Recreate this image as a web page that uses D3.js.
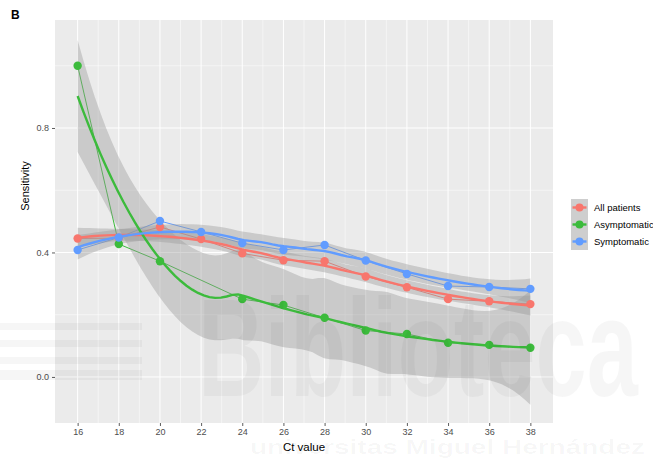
<!DOCTYPE html>
<html>
<head>
<meta charset="utf-8">
<script src="https://cdn.jsdelivr.net/npm/d3@7"></script>
<style>
  body { margin: 0; background: #fff; }
  svg { font-family: "Liberation Sans", Arial, sans-serif; }
</style>
</head>
<body>
<div id="chart"></div>
<script>
// Ct thresholds on the x axis
const ctValues = [16, 18, 20, 22, 24, 26, 28, 30, 32, 34, 36, 38];

// sensitivity per group (null = no point drawn)
const allPatients  = [0.445, 0.446, 0.482, 0.443, 0.397, 0.375, 0.372, 0.323, 0.288, 0.250, 0.243, 0.234];
const asymptomatic = [1.000, 0.427, 0.372, null, 0.250, 0.231, 0.190, 0.149, 0.138, 0.110, 0.103, 0.094];
const symptomatic  = [0.408, 0.448, 0.501, 0.466, 0.430, 0.408, 0.424, 0.374, 0.331, 0.292, 0.289, 0.283];

const groupNames = ["All patients", "Asymptomatic", "Symptomatic"];
const groupColors = ["#F8766D", "#3CBB3C", "#619CFF"];

const yTicks = [0.0, 0.4, 0.8];
const yMinor = [0.2, 0.6, 1.0];

const width = 653, height = 460;

const svg = d3.select("#chart").append("svg")
  .attr("width", width)
  .attr("height", height);

const x = d3.scaleLinear().domain([14.9, 39.1]).range([55, 553]);
const y = d3.scaleLinear().domain([-0.148, 1.147]).range([423, 20]);

// panel
svg.append("rect")
  .attr("x", 55).attr("y", 20)
  .attr("width", 498).attr("height", 403)
  .attr("fill", "#EBEBEB");

// grid lines (minor then major)
const xMinor = ctValues.slice(0, -1).map(v => v + 1);
svg.selectAll("line.xminor").data(xMinor).enter().append("line")
  .attr("x1", d => x(d)).attr("x2", d => x(d))
  .attr("y1", 20).attr("y2", 423)
  .attr("stroke", "#fff").attr("stroke-width", 0.5);
svg.selectAll("line.yminor").data(yMinor).enter().append("line")
  .attr("x1", 55).attr("x2", 553)
  .attr("y1", d => y(d)).attr("y2", d => y(d))
  .attr("stroke", "#fff").attr("stroke-width", 0.5);
svg.selectAll("line.xmajor").data(ctValues).enter().append("line")
  .attr("x1", d => x(d)).attr("x2", d => x(d))
  .attr("y1", 20).attr("y2", 423)
  .attr("stroke", "#fff").attr("stroke-width", 1);
svg.selectAll("line.ymajor").data(yTicks).enter().append("line")
  .attr("x1", 55).attr("x2", 553)
  .attr("y1", d => y(d)).attr("y2", d => y(d))
  .attr("stroke", "#fff").attr("stroke-width", 1);

// loess fit (degree 2, span 0.75) with 95% band, like geom_smooth
function loessRow(xs, x0, span) {
  const n = xs.length;
  const q = Math.floor(n * span);
  const dists = xs.map(v => Math.abs(v - x0));
  const h = dists.slice().sort((a, b) => a - b)[q - 1] * 1.0000001;
  const w = dists.map(d => d < h ? Math.pow(1 - Math.pow(d / h, 3), 3) : 0);
  const A = [[0, 0, 0], [0, 0, 0], [0, 0, 0]];
  xs.forEach((v, i) => {
    const u = v - x0, row = [1, u, u * u];
    for (let a = 0; a < 3; a++) for (let b = 0; b < 3; b++) A[a][b] += w[i] * row[a] * row[b];
  });
  const inv = invert3(A);
  return xs.map((v, i) => {
    const u = v - x0;
    return w[i] * (inv[0][0] + inv[0][1] * u + inv[0][2] * u * u);
  });
}

function invert3(m) {
  const [a, b, c] = m[0], [d, e, f] = m[1], [g, h, i] = m[2];
  const A = e * i - f * h, B = -(d * i - f * g), C = d * h - e * g;
  const det = a * A + b * B + c * C;
  return [
    [A / det, -(b * i - c * h) / det, (b * f - c * e) / det],
    [B / det, (a * i - c * g) / det, -(a * f - c * d) / det],
    [C / det, -(a * h - b * g) / det, (a * e - b * d) / det]
  ];
}

function tQuantile975(df) {
  const z = 1.959964;
  const g1 = (Math.pow(z, 3) + z) / 4;
  const g2 = (5 * Math.pow(z, 5) + 16 * Math.pow(z, 3) + 3 * z) / 96;
  const g3 = (3 * Math.pow(z, 7) + 19 * Math.pow(z, 5) + 17 * Math.pow(z, 3) - 15 * z) / 384;
  return z + g1 / df + g2 / (df * df) + g3 / (df * df * df);
}

function smooth(xs, ys, span = 0.75) {
  const n = xs.length;
  const L = xs.map(v => loessRow(xs, v, span));
  const M = L.map((row, i) => row.map((l, j) => (i === j ? 1 : 0) - l));
  const res = M.map(row => d3.sum(row, (m, j) => m * ys[j]));
  const rss = d3.sum(res, r => r * r);
  const R = d3.range(n).map(i => d3.range(n).map(j => d3.sum(d3.range(n), k => M[k][i] * M[k][j])));
  const delta1 = d3.sum(d3.range(n), i => R[i][i]);
  let delta2 = 0;
  for (let i = 0; i < n; i++) for (let j = 0; j < n; j++) delta2 += R[i][j] * R[j][i];
  const sigma = Math.sqrt(rss / delta1);
  const t = tQuantile975(delta1 * delta1 / delta2);
  const grid = d3.range(80).map(k => xs[0] + (xs[n - 1] - xs[0]) * k / 79);
  return grid.map(g => {
    const l = loessRow(xs, g, span);
    const fit = d3.sum(l, (v, j) => v * ys[j]);
    const se = sigma * Math.sqrt(d3.sum(l, v => v * v));
    return { x: g, fit, lo: fit - t * se, hi: fit + t * se };
  });
}

const series = [allPatients, asymptomatic, symptomatic].map((vals, k) => {
  const points = ctValues.map((c, i) => ({ x: c, y: vals[i] })).filter(p => p.y !== null);
  return {
    name: groupNames[k],
    color: groupColors[k],
    points,
    fit: smooth(points.map(p => p.x), points.map(p => p.y))
  };
});

svg.append("clipPath").attr("id", "panel")
  .append("rect").attr("x", 55).attr("y", 20).attr("width", 498).attr("height", 403);

const plot = svg.append("g").attr("clip-path", "url(#panel)");

const area = d3.area().x(d => x(d.x)).y0(d => y(d.lo)).y1(d => y(d.hi));
const fitLine = d3.line().x(d => x(d.x)).y(d => y(d.fit));
const rawLine = d3.line().x(d => x(d.x)).y(d => y(d.y));

// thin lines connecting the observed points (drawn under the bands)
plot.selectAll("path.raw").data(series).enter().append("path")
  .attr("d", d => rawLine(d.points))
  .attr("fill", "none")
  .attr("stroke", d => d.color)
  .attr("stroke-width", 1);

// confidence bands
plot.selectAll("path.band").data(series).enter().append("path")
  .attr("d", d => area(d.fit))
  .attr("fill", "#999999")
  .attr("fill-opacity", 0.4);

// smooth curves
plot.selectAll("path.fit").data(series).enter().append("path")
  .attr("d", d => fitLine(d.fit))
  .attr("fill", "none")
  .attr("stroke", d => d.color)
  .attr("stroke-width", 2.4);

// points
series.forEach(s => {
  plot.selectAll(null).data(s.points).enter().append("circle")
    .attr("cx", d => x(d.x)).attr("cy", d => y(d.y))
    .attr("r", 4.2)
    .attr("fill", s.color);
});

// axes
const xAxis = svg.append("g").attr("transform", "translate(0,423)")
  .call(d3.axisBottom(x).tickValues(ctValues).tickSize(3).tickPadding(3));
const yAxis = svg.append("g").attr("transform", "translate(55,0)")
  .call(d3.axisLeft(y).tickValues(yTicks).tickFormat(d3.format(".1f")).tickSize(3).tickPadding(3));
[xAxis, yAxis].forEach(a => {
  a.select(".domain").remove();
  a.selectAll(".tick line").attr("stroke", "#333").attr("stroke-width", 0.8);
  a.selectAll(".tick text").attr("fill", "#4D4D4D").style("font-size", "9px")
    .style("font-family", "Liberation Sans, Arial, sans-serif");
});

svg.append("text")
  .attr("x", 304).attr("y", 451)
  .attr("text-anchor", "middle")
  .style("font-size", "11.5px")
  .text("Ct value");

svg.append("text")
  .attr("transform", "translate(29,186) rotate(-90)")
  .attr("text-anchor", "middle")
  .style("font-size", "11px")
  .text("Sensitivity");

svg.append("text")
  .attr("x", 11).attr("y", 19)
  .style("font-size", "12px")
  .style("font-weight", "bold")
  .text("B");

// legend
const legend = svg.append("g").attr("transform", "translate(571,199)");
series.forEach((s, i) => {
  const row = legend.append("g").attr("transform", `translate(0,${i * 17})`);
  row.append("rect").attr("width", 17).attr("height", 17).attr("fill", "#F2F2F2");
  row.append("rect").attr("width", 17).attr("height", 17).attr("fill", "#999999").attr("fill-opacity", 0.4);
  row.append("line").attr("x1", 1.5).attr("x2", 15.5).attr("y1", 8.5).attr("y2", 8.5)
    .attr("stroke", s.color).attr("stroke-width", 2.4);
  row.append("circle").attr("cx", 8.5).attr("cy", 8.5).attr("r", 4).attr("fill", s.color);
  row.append("text").attr("x", 23).attr("y", 12)
    .style("font-size", "9.5px")
    .text(s.name);
});

// faint repository watermark
const wm = svg.append("g").attr("fill", "#000").attr("fill-opacity", 0.035).style("pointer-events", "none");
[323, 340, 357, 370].forEach((yy, i) => {
  wm.append("rect").attr("x", 0).attr("y", yy).attr("width", 142).attr("height", i === 3 ? 10 : 7);
});
wm.append("text").attr("x", 198).attr("y", 396)
  .attr("textLength", 440).attr("lengthAdjust", "spacingAndGlyphs")
  .style("font-size", "140px").style("font-weight", "bold")
  .text("Biblioteca");
wm.append("text").attr("x", 250).attr("y", 454)
  .attr("textLength", 395).attr("lengthAdjust", "spacingAndGlyphs")
  .style("font-size", "20px").style("font-weight", "bold")
  .text("universitas Miguel Hernández");
</script>
</body>
</html>
